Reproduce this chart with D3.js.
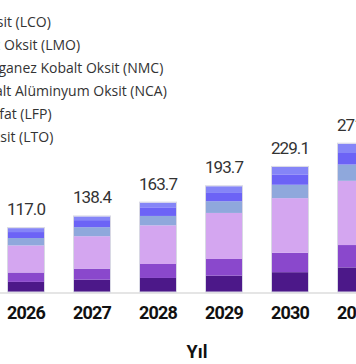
<!DOCTYPE html>
<html><head><meta charset="utf-8">
<script src="https://cdn.jsdelivr.net/npm/d3@7"></script>
<style>html,body{margin:0;padding:0;background:#fff;overflow:hidden}</style>
</head><body>
<svg id="c" width="356" height="364"></svg>
<script>
const years = ["2026","2027","2028","2029","2030","2031"];
const seriesNames = [
  "Lityum Kobalt Oksit (LCO)",
  "Lityum Manganez Oksit (LMO)",
  "Lityum Nikel Manganez Kobalt Oksit (NMC)",
  "Lityum Nikel Kobalt Alüminyum Oksit (NCA)",
  "Lityum Demir Fosfat (LFP)",
  "Lityum Titanat Oksit (LTO)"
];
const LCO = [18.5, 22.6, 25.7, 29.9, 36.3, 45.0];
const LMO = [17.2, 20.2, 25.6, 30.6, 35.5, 41.0];
const NMC = [49.6, 59.4, 70.8, 84.3, 100.1, 117.6];
const NCA = [13.5, 16.5, 17.2, 21.4, 24.5, 29.8];
const LFP = [11.0, 12.9, 15.8, 15.2, 19.0, 21.2];
const LTO = [7.2, 6.8, 8.6, 12.3, 13.7, 17.0];
const totals = [117.0, 138.4, 163.7, 193.7, 229.1, 271.6];
const colors = ["#4c1889", "#8a48cc", "#d4a6f0", "#8fa8dc", "#6c63f6", "#8585f7"];

const seriesVals = [LCO, LMO, NMC, NCA, LFP, LTO];
const keys = ["LCO","LMO","NMC","NCA","LFP","LTO"];
const rows = years.map((y, i) => {
  const r = {year: y};
  keys.forEach((k, j) => r[k] = seriesVals[j][i]);
  return r;
});

const svg = d3.select("#c");
const baseY = 292;
const x = d3.scaleBand().domain(years).range([-7, 389]).paddingInner(0.4545).paddingOuter(0.2273);
const y = d3.scaleLinear().domain([0, 300]).range([baseY, baseY - 300 * 0.546]);
const color = d3.scaleOrdinal().domain(keys).range(colors);

const stack = d3.stack().keys(keys)(rows);

// axis baseline
svg.append("line").attr("x1", 0).attr("x2", 356).attr("y1", baseY + 1).attr("y2", baseY + 1)
  .attr("stroke", "#dcdcdc").attr("stroke-width", 1.5);

// bars
const g = svg.append("g");
stack.forEach(s => {
  g.append("g").attr("fill", color(s.key)).selectAll("rect").data(s).join("rect")
    .attr("x", d => x(d.data.year))
    .attr("width", x.bandwidth())
    .attr("y", d => y(d[1]))
    .attr("height", d => y(d[0]) - y(d[1]));
});
// faint outline
g.append("g").selectAll("rect").data(years).join("rect")
  .attr("x", d => x(d) - 0.5).attr("width", x.bandwidth() + 1)
  .attr("y", (d, i) => y(totals[i]) - 0.5)
  .attr("height", (d, i) => baseY - y(totals[i]) + 0.5)
  .attr("fill", "none").attr("stroke", "#d8d8e4").attr("stroke-width", 1);

// value labels
svg.append("g").selectAll("text").data(years).join("text")
  .attr("x", d => x(d) + x.bandwidth() / 2)
  .attr("y", (d, i) => y(totals[i]) - 13)
  .attr("text-anchor", "middle")
  .attr("font-family", "Roboto, sans-serif")
  .attr("letter-spacing", -0.9)
  .attr("font-size", 17).attr("fill", "#333")
  .text((d, i) => totals[i].toFixed(1));

// x axis labels
const xa = svg.append("g").attr("transform", `translate(0,${baseY})`)
  .call(d3.axisBottom(x).tickSize(0).tickPadding(14));
xa.select(".domain").remove();
xa.selectAll("text").attr("font-family", "Roboto, sans-serif")
  .attr("letter-spacing", -0.8)
  .attr("font-size", 18).attr("font-weight", 700).attr("fill", "#111");

// axis title
svg.append("text").attr("x", 197).attr("y", 358).attr("text-anchor", "middle")
  .attr("font-family", "Roboto, sans-serif")
  .attr("font-size", 18).attr("font-weight", 700).attr("fill", "#111").text("Yıl");

// legend (partially outside view on the left)
const legX = -115;
const lg = svg.append("g").selectAll("g").data(seriesNames).join("g")
  .attr("transform", (d, i) => `translate(${legX},${27 + i * 23})`);
lg.append("rect").attr("x", -22).attr("y", -11).attr("width", 14).attr("height", 12)
  .attr("fill", (d, i) => colors[i]);
lg.append("text").attr("x", 0).attr("y", 0)
  .attr("font-family", "'Open Sans', sans-serif").attr("font-size", 14).attr("fill", "#333")
  .text(d => d);
</script>
</body></html>
